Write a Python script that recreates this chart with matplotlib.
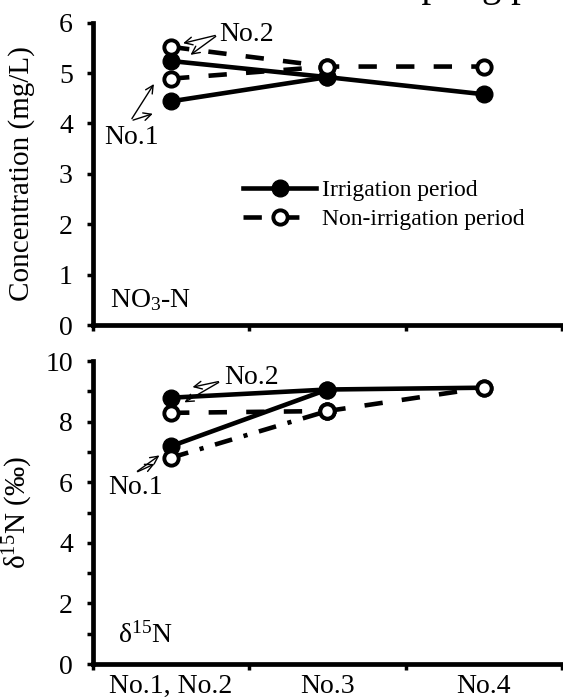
import matplotlib
matplotlib.use('Agg')
import matplotlib.pyplot as plt
from matplotlib.lines import Line2D

plt.rcParams['font.family'] = ['Liberation Serif', 'DejaVu Serif']
plt.rcParams['mathtext.fontset'] = 'custom'
plt.rcParams['mathtext.rm'] = 'Liberation Serif'
plt.rcParams['mathtext.it'] = 'Liberation Serif:italic'
plt.rcParams['mathtext.default'] = 'regular'

# sampling positions on the x axis
sites = ['No.1, No.2', 'No.3', 'No.4']
x_full = [0, 1, 2]
x_short = [0, 1]

# NO3-N concentration (mg/L)
no3_irr_no1 = [4.44, 4.92, 4.58]
no3_irr_no2 = [5.24, 4.92]
no3_non_no1 = [4.89, 5.13, 5.13]
no3_non_no2 = [5.52, 5.13]

# delta 15N (permil)
d15n_irr_no1 = [7.19, 9.06, 9.12]
d15n_irr_no2 = [8.79, 9.06]
d15n_non_no1 = [6.81, 8.35, 9.12]
d15n_non_no2 = [8.29, 8.35]

LW = 3.3
DASH = (0, (4.0, 4.2))
DASHDOT = (0, (3.9, 2.6, 0.9, 2.6))
filled = dict(marker='o', ms=12, mfc='black', mec='black', mew=1, color='black')
opened = dict(marker='o', ms=10.3, mfc='white', mec='black', mew=2.8, color='black')
arrow = dict(arrowstyle='->', lw=1, color='black', mutation_scale=14)


def style_axes(ax, ymax, ystep, minor=None, xlabels=True):
    ax.spines['top'].set_visible(False)
    ax.spines['right'].set_visible(False)
    ax.spines['left'].set_linewidth(3.4)
    ax.spines['bottom'].set_linewidth(3.4)
    ax.set_xlim(-0.5, 2.5)
    ax.set_ylim(0, ymax)
    ax.set_xticks([-0.5, 0.5, 1.5, 2.5])
    ax.set_xticklabels([])
    ax.set_yticks(range(0, ymax + 1, ystep))
    if minor is not None:
        ax.set_yticks(minor, minor=True)
    if xlabels:
        ax.set_xticks(x_full, minor=True)
        ax.set_xticklabels(sites, minor=True)
    ax.tick_params(axis='x', which='major', direction='out', length=4.5, width=2.5)
    ax.tick_params(axis='x', which='minor', length=0, pad=7, labelsize=20)
    ax.tick_params(axis='y', which='both', direction='out', length=4.5, width=2.5,
                   pad=10, labelsize=20)


fig = plt.figure(figsize=(5.63, 6.99), dpi=100)
ax1 = fig.add_axes([0.165, 0.535, 0.833, 0.4325])
ax2 = fig.add_axes([0.165, 0.050, 0.833, 0.4335])

# top panel
ax1.plot(x_full, no3_irr_no1, ls='-', lw=LW, **filled)
ax1.plot(x_short, no3_irr_no2, ls='-', lw=LW, **filled)
ax1.plot(x_full, no3_non_no1, ls=DASH, lw=LW, **opened)
ax1.plot(x_short, no3_non_no2, ls=DASH, lw=LW, **opened)
style_axes(ax1, 6, 1, xlabels=False)
ax1.set_ylabel('Concentration (mg/L)', fontsize=21)
ax1.yaxis.set_label_coords(-0.123, 0.5)
ax1.text(-0.39, 0.5, 'NO$_3$-N', fontsize=20, va='center', ha='left')

ax1.annotate('', xy=(0.06, 5.58), xytext=(0.30, 5.76), arrowprops=arrow)
ax1.annotate('', xy=(0.11, 5.33), xytext=(0.30, 5.76), arrowprops=arrow)
ax1.text(0.31, 5.77, 'No.2', fontsize=20, va='center', ha='left')
ax1.annotate('', xy=(-0.10, 4.83), xytext=(-0.26, 4.05), arrowprops=arrow)
ax1.annotate('', xy=(-0.10, 4.21), xytext=(-0.26, 4.05), arrowprops=arrow)
ax1.text(-0.25, 3.72, 'No.1', fontsize=20, va='center', ha='center')

handles = [Line2D([], [], ls='-', lw=LW, **filled),
           Line2D([], [], ls=DASH, lw=LW, **opened)]
ax1.legend(handles, ['Irrigation period', 'Non-irrigation period'],
           loc='upper left', bbox_to_anchor=(0.32, 0.48), frameon=False,
           fontsize=17, handlelength=3.1, handletextpad=0.25,
           labelspacing=0.3, borderpad=0, borderaxespad=0)

# bottom panel
ax2.plot(x_full, d15n_irr_no1, ls='-', lw=LW, **filled)
ax2.plot(x_short, d15n_irr_no2, ls='-', lw=LW, **filled)
ax2.plot(x_full[:2], d15n_non_no1[:2], ls=DASHDOT, lw=LW, **opened)
ax2.plot(x_full[1:], d15n_non_no1[1:], ls=DASH, lw=LW, **opened)
ax2.plot(x_short, d15n_non_no2, ls=DASH, lw=LW, **opened)
style_axes(ax2, 10, 2, minor=[1, 3, 5, 7, 9])
ax2.set_ylabel('δ$^{15}$N (‰)', fontsize=21)
ax2.yaxis.set_label_coords(-0.123, 0.5)
ax2.text(-0.34, 0.96, 'δ$^{15}$N', fontsize=20, va='center', ha='left')

ax2.annotate('', xy=(0.12, 9.12), xytext=(0.32, 9.34), arrowprops=arrow)
ax2.annotate('', xy=(0.07, 8.59), xytext=(0.32, 9.34), arrowprops=arrow)
ax2.text(0.34, 9.45, 'No.2', fontsize=20, va='center', ha='left')
ax2.annotate('', xy=(-0.06, 6.94), xytext=(-0.23, 6.31), arrowprops=arrow)
ax2.annotate('', xy=(-0.09, 6.64), xytext=(-0.23, 6.31), arrowprops=arrow)
ax2.text(-0.23, 5.82, 'No.1', fontsize=20, va='center', ha='center')

# title cut off at the top edge of the original picture
fig.canvas.draw()
renderer = fig.canvas.get_renderer()
probe = fig.text(0, 0, 'Groundwater sam', fontsize=28)
w = probe.get_window_extent(renderer).width
probe.remove()
fig.text((421 - w) / 563, 1 + 4 / 699, 'Groundwater sampling period', fontsize=28,
         ha='left', va='baseline')

fig.savefig('out.png', dpi=100)
